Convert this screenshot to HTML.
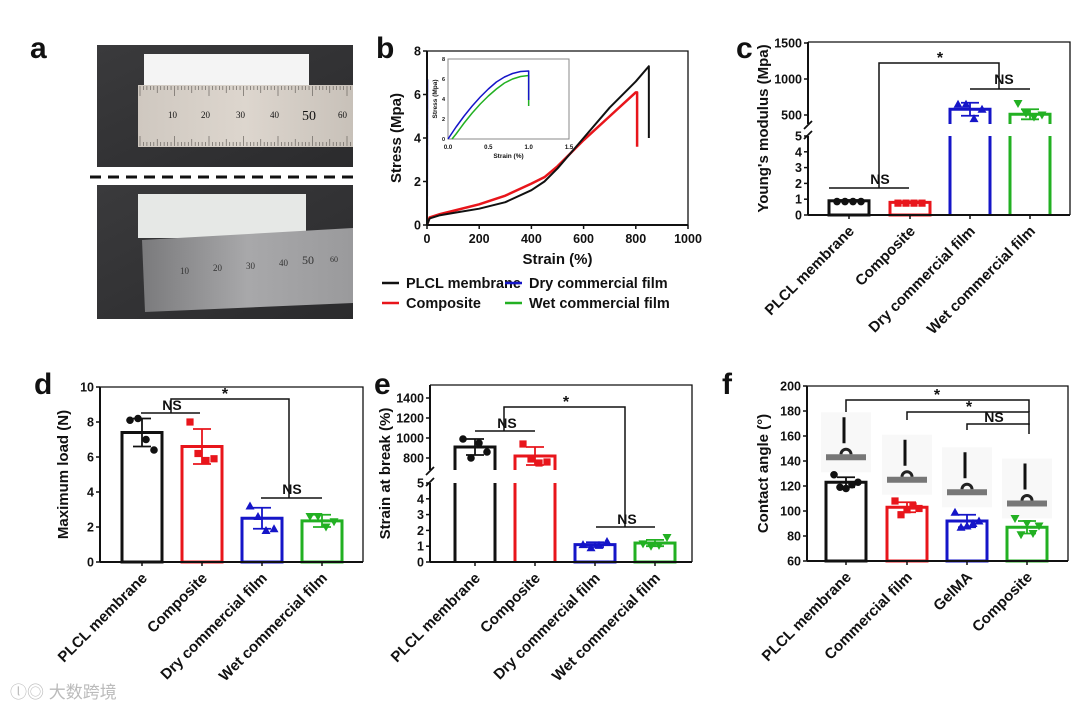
<!DOCTYPE html>
<html><head><meta charset="utf-8"><style>
html,body{margin:0;padding:0;background:#fff}
svg{display:block}
text{font-family:"Liberation Sans",Arial,sans-serif;font-weight:bold;fill:#111}
</style></head><body>
<svg id="fig" xmlns="http://www.w3.org/2000/svg" width="1080" height="713" viewBox="0 0 1080 713">
<defs>
<linearGradient id="bg1" x1="0" y1="0" x2="1" y2="1"><stop offset="0" stop-color="#3a3a3c"/><stop offset="1" stop-color="#2b2b2d"/></linearGradient>
<linearGradient id="rul1" x1="0" y1="0" x2="1" y2="0"><stop offset="0" stop-color="#cfc8c0"/><stop offset="0.5" stop-color="#ddd6ce"/><stop offset="1" stop-color="#c8c1b9"/></linearGradient>
<linearGradient id="rul2" x1="0" y1="0" x2="1" y2="0"><stop offset="0" stop-color="#7a7a7c"/><stop offset="0.5" stop-color="#a8a8aa"/><stop offset="1" stop-color="#9a9a9c"/></linearGradient>
</defs>
<g>
<text x="30" y="58" font-size="30">a</text>
<rect x="97" y="45" width="256" height="122" fill="url(#bg1)"/>
<rect x="144" y="54" width="165" height="32" fill="#f4f4f4"/>
<rect x="138" y="85" width="215" height="62" fill="url(#rul1)"/>
<g id="ticks1" stroke="#6a6560" stroke-width="0.7"></g>
<text x="168" y="118" style="font-family:'Liberation Serif';font-weight:normal;font-size:9px">10</text>
<text x="201" y="118" style="font-family:'Liberation Serif';font-weight:normal;font-size:9px">20</text>
<text x="236" y="118" style="font-family:'Liberation Serif';font-weight:normal;font-size:9px">30</text>
<text x="270" y="118" style="font-family:'Liberation Serif';font-weight:normal;font-size:9px">40</text>
<text x="302" y="120" style="font-family:'Liberation Serif';font-weight:normal;font-size:14px">50</text>
<text x="338" y="118" style="font-family:'Liberation Serif';font-weight:normal;font-size:9px">60</text>
<line x1="90" y1="177" x2="360" y2="177" stroke="#111" stroke-width="3" stroke-dasharray="11,7"/>
<rect x="97" y="185" width="256" height="134" fill="url(#bg1)"/>
<rect x="138" y="194" width="168" height="44" fill="#e6e8e6"/>
<polygon points="142,240 353,228 353,303 145,312" fill="url(#rul2)"/>
<text x="180" y="274" style="font-family:'Liberation Serif';font-weight:normal;font-size:9px;fill:#333">10</text>
<text x="213" y="271" style="font-family:'Liberation Serif';font-weight:normal;font-size:9px;fill:#333">20</text>
<text x="246" y="269" style="font-family:'Liberation Serif';font-weight:normal;font-size:9px;fill:#333">30</text>
<text x="279" y="266" style="font-family:'Liberation Serif';font-weight:normal;font-size:9px;fill:#333">40</text>
<text x="302" y="264" style="font-family:'Liberation Serif';font-weight:normal;font-size:12px;fill:#333">50</text>
<text x="330" y="262" style="font-family:'Liberation Serif';font-weight:normal;font-size:8px;fill:#333">60</text>
</g>
<g id="pb"></g>
<g id="pc"></g>
<g id="pd"></g>
<g id="pe"></g>
<g id="pf"></g>
<text x="10" y="698" font-size="17" style="fill:#bbb;font-family:'Liberation Sans','Noto Sans CJK SC',sans-serif;font-weight:normal">ⓛ◎ 大数跨境</text>
</svg>
<script>
// ---- panel b data ----
const bPLCLx=[0,10,50,100,200,300,400,450,500,550,600,700,800,850,850];
const bPLCLy=[0,0.3,0.45,0.55,0.75,1.05,1.6,2.0,2.6,3.3,4.0,5.4,6.6,7.3,4.0];
const bCompx=[0,10,50,100,200,300,400,450,500,550,600,700,800,805,805];
const bCompy=[0,0.35,0.5,0.65,0.95,1.35,1.9,2.2,2.7,3.3,3.9,5.0,6.1,6.1,3.6];
const bDryx=[0,1,1];
const bDryy=[0,6.7,6.7];
const bInsetDryx=[0,0.1,0.2,0.3,0.4,0.5,0.6,0.7,0.8,0.9,1.0,1.0,1.0];
const bInsetDryy=[0,1.2,2.3,3.3,4.2,5.0,5.7,6.2,6.55,6.75,6.8,6.8,3.9];
const bInsetWetx=[0.05,0.1,0.2,0.3,0.4,0.5,0.6,0.7,0.8,0.9,1.0,1.0,1.0];
const bInsetWety=[0,0.5,1.6,2.6,3.5,4.3,5.0,5.6,6.0,6.25,6.35,6.35,3.3];
const bXTicks=[0,200,400,600,800,1000];
const bYTicks=[0,2,4,6,8];
// ---- panel c data ----
const cCats=["PLCL membrane","Composite","Dry commercial film","Wet commercial film"];
const cVals=[0.9,0.8,580,510];
const cSD=[0.05,0.05,90,70];
const cPts=[[0.85,0.85,0.85,0.85],[0.75,0.75,0.75,0.75],[650,650,450,580],[660,520,470,500]];
const cLowTicks=[0,1,2,3,4,5];
const cHighTicks=[500,1000,1500];
// ---- panel d data ----
const dCats=cCats;
const dVals=[7.4,6.6,2.5,2.35];
const dSD=[0.8,1.0,0.6,0.35];
const dPts=[[8.1,8.2,7.0,6.4],[8.0,6.2,5.8,5.9],[3.2,2.6,1.8,1.9],[2.6,2.6,2.0,2.3]];
const dTicks=[0,2,4,6,8,10];
// ---- panel e data ----
const eCats=cCats;
const eVals=[910,820,1.1,1.2];
const eSD=[80,90,0.15,0.2];
const ePts=[[990,800,950,860],[940,790,750,760],[1.1,0.9,1.05,1.3],[1.15,1.0,1.05,1.55]];
const eLowTicks=[0,1,2,3,4,5];
const eHighTicks=[800,1000,1200,1400];
// ---- panel f data ----
const fCats=["PLCL membrane","Commercial film","GelMA","Composite"];
const fVals=[123,103,92,87];
const fSD=[4,4,5,5];
const fPts=[[129,119,118,121,123],[108,97,101,104,102],[99,87,88,90,92],[94,81,90,82,88]];
const fTicks=[60,80,100,120,140,160,180,200];
const fDrops=[143,125,115,106];

const NS='http://www.w3.org/2000/svg';
function el(p,t,a,txt){const e=document.createElementNS(NS,t);for(const k in a)e.setAttribute(k,a[k]);if(txt!==undefined)e.textContent=txt;p.appendChild(e);return e;}
const colors=['#111','#e8151b','#1515c8','#22b022'];

(function(){const g=document.getElementById('ticks1');for(let i=0;i<62;i++){const x=140+i*3.45;const L=i%10==0?10:(i%5==0?7:4);
const t=el(g,'line',{x1:x,y1:86,x2:x,y2:86+L});
const t2=el(g,'line',{x1:x,y1:146,x2:x,y2:146-L});}})();

// ---------- panel b ----------
(function(){
const g=document.getElementById('pb');
const X0=427,X1=688,Y0=225,Y1=51;
const sx=v=>X0+(v/1000)*(X1-X0), sy=v=>Y0-(v/8)*(Y0-Y1);
let t=el(g,'text',{x:376,y:58,'font-size':30},'b');
let r=el(g,'polyline',{points:`${X0},${Y1} ${X1},${Y1} ${X1},${Y0}`,fill:'none',stroke:'#111','stroke-width':1.3});
const path=(xs,ys,c,w,fx,fy,name)=>{const p=el(g,'polyline',{points:xs.map((x,i)=>fx(x)+','+fy(ys[i])).join(' '),fill:'none',stroke:c,'stroke-width':w,'stroke-linejoin':'round'});};
path(bCompx,bCompy,'#e8151b',2.5,sx,sy,'curve-composite');
path(bPLCLx,bPLCLy,'#111',2,sx,sy,'curve-plcl');
path(bDryx,bDryy,'#1515c8',2,sx,sy,'curve-dry');
let ax=el(g,'line',{x1:X0,y1:Y0,x2:X1,y2:Y0,stroke:'#111','stroke-width':2});
ax=el(g,'line',{x1:X0,y1:Y0,x2:X0,y2:Y1,stroke:'#111','stroke-width':2});
bXTicks.forEach(v=>{el(g,'line',{x1:sx(v),y1:Y0,x2:sx(v),y2:Y0+4,stroke:'#111','stroke-width':1.5});
const l=el(g,'text',{x:sx(v),y:Y0+18,'font-size':12.5,'text-anchor':'middle'},v);});
bYTicks.forEach(v=>{el(g,'line',{x1:X0-4,y1:sy(v),x2:X0,y2:sy(v),stroke:'#111','stroke-width':1.5});
const l=el(g,'text',{x:X0-6,y:sy(v)+4.5,'font-size':12.5,'text-anchor':'end'},v);});
t=el(g,'text',{x:(X0+X1)/2,y:264,'font-size':15,'text-anchor':'middle'},'Strain (%)');
t=el(g,'text',{x:0,y:0,'font-size':15,'text-anchor':'middle',transform:`translate(401,${(Y0+Y1)/2}) rotate(-90)`},'Stress (Mpa)');
const IX0=448,IX1=569,IY0=139,IY1=59;
const ix=v=>IX0+(v/1.5)*(IX1-IX0), iy=v=>IY0-(v/8)*(IY0-IY1);
r=el(g,'rect',{x:IX0,y:IY1,width:IX1-IX0,height:IY0-IY1,fill:'#fff',stroke:'#888','stroke-width':1});
path(bInsetWetx,bInsetWety,'#22b022',1.5,ix,iy,'inset-curve-wet');
path(bInsetDryx,bInsetDryy,'#1515c8',1.5,ix,iy,'inset-curve-dry');
[0,0.5,1.0,1.5].forEach(v=>{const l=el(g,'text',{x:ix(v),y:IY0+10,'font-size':6,'text-anchor':'middle'},v.toFixed(1));});
[0,2,4,6,8].forEach(v=>{const l=el(g,'text',{x:IX0-3,y:iy(v)+2,'font-size':5.5,'text-anchor':'end'},v);});
t=el(g,'text',{x:ix(0.75),y:IY0+19,'font-size':6.5,'text-anchor':'middle'},'Strain (%)');
t=el(g,'text',{x:0,y:0,'font-size':6.5,'text-anchor':'middle',transform:`translate(437,${(IY0+IY1)/2}) rotate(-90)`},'Stress (Mpa)');
const leg=[['PLCL membrane','#111',382,288],['Composite','#e8151b',382,308],['Dry commercial film','#1515c8',505,288],['Wet commercial film','#22b022',505,308]];
leg.forEach(L=>{const lg=el(g,'g',{});
el(lg,'line',{x1:L[2],y1:L[3]-5,x2:L[2]+17,y2:L[3]-5,stroke:L[1],'stroke-width':2.5});
el(lg,'text',{x:L[2]+24,y:L[3],'font-size':14.5},L[0]);});
})();

function marker(g,i,x,y){const c=colors[i];let m;
if(i==0)m=el(g,'circle',{cx:x,cy:y,r:3.8,fill:c});
else if(i==1)m=el(g,'rect',{x:x-3.6,y:y-3.6,width:7.2,height:7.2,fill:c});
else if(i==2)m=el(g,'polygon',{points:`${x},${y-4.5} ${x+4.5},${y+3.5} ${x-4.5},${y+3.5}`,fill:c});
else m=el(g,'polygon',{points:`${x},${y+4.5} ${x+4.5},${y-3.5} ${x-4.5},${y-3.5}`,fill:c});
}

function barPanel(o){
const g=document.getElementById(o.id);
let t=el(g,'text',{x:o.lx,y:o.ly,'font-size':30},o.label);
const Y=o.sy;
let f=el(g,'polyline',{points:`${o.X0},${o.Ytop} ${o.X1},${o.Ytop} ${o.X1},${o.Y0}`,fill:'none',stroke:'#111','stroke-width':1.3});
const bw=o.bw;
o.cats.forEach((c,i)=>{const cx=o.cx[i];const col=colors[i];const v=o.vals[i];
const bg=el(g,'g',{});
const yv=Y(v);
if(o.brk && v>o.brk.lowMax){
 el(bg,'line',{x1:cx-bw/2,y1:o.Y0,x2:cx-bw/2,y2:o.brk.yLowTop,stroke:col,'stroke-width':3});
 el(bg,'line',{x1:cx+bw/2,y1:o.Y0,x2:cx+bw/2,y2:o.brk.yLowTop,stroke:col,'stroke-width':3});
 el(bg,'polyline',{points:`${cx-bw/2},${o.brk.yHighBot} ${cx-bw/2},${yv} ${cx+bw/2},${yv} ${cx+bw/2},${o.brk.yHighBot}`,fill:'none',stroke:col,'stroke-width':3});
}else{
 el(bg,'rect',{x:cx-bw/2,y:yv,width:bw,height:o.Y0-yv,fill:'none',stroke:col,'stroke-width':3});
}
const sd=o.sd[i];el(bg,'line',{x1:cx,y1:Y(v+sd),x2:cx,y2:Y(v-sd),stroke:col,'stroke-width':1.8});
el(bg,'line',{x1:cx-9,y1:Y(v+sd),x2:cx+9,y2:Y(v+sd),stroke:col,'stroke-width':1.8});
el(bg,'line',{x1:cx-9,y1:Y(v-sd),x2:cx+9,y2:Y(v-sd),stroke:col,'stroke-width':1.8});
const pts=o.pts[i];pts.forEach((p,k)=>marker(bg,i,cx-12+k*(24/(pts.length-1)),Y(p)));
const lb=el(g,'text',{x:0,y:0,'font-size':15,'text-anchor':'end',transform:`translate(${cx+6},${o.Y0+17}) rotate(-45)`},c);
el(g,'line',{x1:cx,y1:o.Y0,x2:cx,y2:o.Y0+4,stroke:'#111','stroke-width':1.5});
});
let a=el(g,'line',{x1:o.X0,y1:o.Y0,x2:o.X1,y2:o.Y0,stroke:'#111','stroke-width':2});
if(o.brk){
 a=el(g,'line',{x1:o.X0,y1:o.Y0,x2:o.X0,y2:o.brk.yLowTop,stroke:'#111','stroke-width':2});
 a=el(g,'line',{x1:o.X0,y1:o.brk.yHighBot,x2:o.X0,y2:o.Ytop,stroke:'#111','stroke-width':2});
 el(g,'line',{x1:o.X0-4,y1:o.brk.yLowTop+3,x2:o.X0+4,y2:o.brk.yLowTop-5,stroke:'#111','stroke-width':1.8});
 el(g,'line',{x1:o.X0-4,y1:o.brk.yHighBot+5,x2:o.X0+4,y2:o.brk.yHighBot-3,stroke:'#111','stroke-width':1.8});
}else{a=el(g,'line',{x1:o.X0,y1:o.Y0,x2:o.X0,y2:o.Ytop,stroke:'#111','stroke-width':2});}
o.ticks.forEach(v=>{el(g,'line',{x1:o.X0-4,y1:Y(v),x2:o.X0,y2:Y(v),stroke:'#111','stroke-width':1.5});
const l=el(g,'text',{x:o.X0-6,y:Y(v)+4.5,'font-size':12.5,'text-anchor':'end'},v);});
t=el(g,'text',{x:0,y:0,'font-size':15,'text-anchor':'middle',transform:`translate(${o.tx},${(o.Y0+o.Ytop)/2}) rotate(-90)`},o.ytitle);
(o.sig||[]).forEach(s=>{const sg=el(g,'g',{});
el(sg,'polyline',{points:s.pts,fill:'none',stroke:'#111','stroke-width':1.5});
el(sg,'text',{x:s.tx,y:s.ty,'font-size':s.lbl=='*'?16:14,'text-anchor':'middle'},s.lbl);});
}

(function(){
const Y0=215,lowTop=136,hb=124;
const sy=v=>v<=5?Y0-v*(Y0-lowTop)/5:115-(v-500)*36/500;
barPanel({id:'pc',label:'c',lx:736,ly:58,X0:808,X1:1070,Y0:Y0,Ytop:42,sy:sy,bw:40,cx:[849,910,970,1030],cats:cCats,vals:cVals,sd:cSD,pts:cPts,
ticks:cLowTicks.concat(cHighTicks),brk:{lowMax:5,yLowTop:lowTop,yHighBot:hb},tx:768,ytitle:"Young's modulus (Mpa)",
sig:[{pts:'829,188 909,188',lbl:'NS',tx:880,ty:184},{pts:'970,89 1030,89',lbl:'NS',tx:1004,ty:84},{pts:'879,188 879,63 999,63 999,89',lbl:'*',tx:940,ty:63}]});
})();
(function(){
const Y0=562,Yt=387;const sy=v=>Y0-v*(Y0-Yt)/10;
barPanel({id:'pd',label:'d',lx:34,ly:394,X0:100,X1:363,Y0:Y0,Ytop:Yt,sy:sy,bw:40,cx:[142,202,262,322],cats:dCats,vals:dVals,sd:dSD,pts:dPts,ticks:dTicks,tx:68,ytitle:'Maximum load (N)',
sig:[{pts:'141,413 200,413',lbl:'NS',tx:172,ty:410},{pts:'261,498 322,498',lbl:'NS',tx:292,ty:494},{pts:'171,413 171,399 289,399 289,498',lbl:'*',tx:225,ty:399}]});
})();
(function(){
const Y0=562,lowTop=483,hb=470;
const sy=v=>v<=5?Y0-v*(Y0-lowTop)/5:458-(v-800)*60/600;
barPanel({id:'pe',label:'e',lx:374,ly:394,X0:430,X1:692,Y0:Y0,Ytop:385,sy:sy,bw:40,cx:[475,535,595,655],cats:eCats,vals:eVals,sd:eSD,pts:ePts,
ticks:eLowTicks.concat(eHighTicks),brk:{lowMax:5,yLowTop:lowTop,yHighBot:hb},tx:390,ytitle:'Strain at break (%)',
sig:[{pts:'475,431 535,431',lbl:'NS',tx:507,ty:428},{pts:'596,527 655,527',lbl:'NS',tx:627,ty:524},{pts:'504,431 504,407 625,407 625,527',lbl:'*',tx:566,ty:407}]});
})();
(function(){
const Y0=561,Yt=386;const sy=v=>Y0-(v-60)*(Y0-Yt)/140;
const fg=document.getElementById('pf');
const cxs=[846,907,967,1027];
fDrops.forEach((d,i)=>{const x=cxs[i];const y=sy(d);const dg=el(fg,'g',{});
el(dg,'rect',{x:x-25,y:y-45,width:50,height:60,fill:'#f8f8f8'});
el(dg,'rect',{x:x-20,y:y-3,width:40,height:6,fill:'#777'});
el(dg,'path',{d:`M${x-5},${y-3} A5,5 0 0 1 ${x+5},${y-3}`,fill:'none',stroke:'#222','stroke-width':3});
el(dg,'line',{x1:x-2,y1:y-40,x2:x-2,y2:y-14,stroke:'#111','stroke-width':3});});
barPanel({id:'pf',label:'f',lx:722,ly:394,X0:807,X1:1068,Y0:Y0,Ytop:Yt,sy:sy,bw:40,cx:cxs,cats:fCats,vals:fVals,sd:fSD,pts:fPts,ticks:fTicks,tx:768,ytitle:'Contact angle (°)',
sig:[{pts:'846,412 846,400 1029,400 1029,412',lbl:'*',tx:937,ty:400},{pts:'907,420 907,412 1029,412 1029,425',lbl:'*',tx:969,ty:412},{pts:'967,430 967,424 1029,424 1029,434',lbl:'NS',tx:994,ty:422}]});
})();
</script>
</body></html>
